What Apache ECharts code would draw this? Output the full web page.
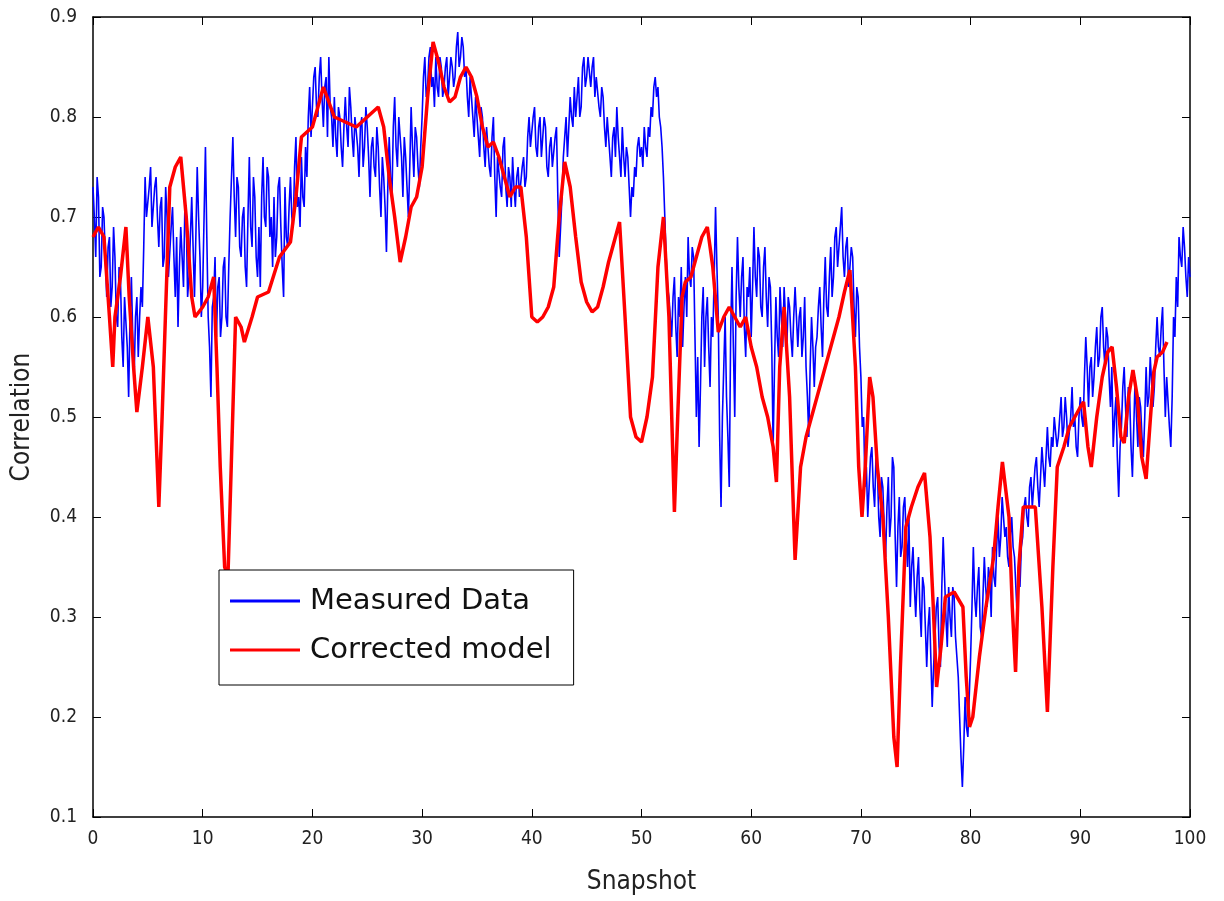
<!DOCTYPE html>
<html><head><meta charset="utf-8">
<script src="https://cdn.jsdelivr.net/npm/echarts@6/dist/echarts.min.js"></script>
<style>html,body{margin:0;padding:0;background:#fff}#c{width:1224px;height:901px}</style>
</head><body><div id="c"></div>
<script>
// Measured data: sampled every 0.125 snapshot (8 values per snapshot unit)
const measuredStep = 0.125;
const measured = [
0.73,0.70,0.66,0.74,0.72,0.64,0.65,0.71, 0.70,0.66,0.62,0.67,0.68,0.61,0.63,0.69,
0.66,0.60,0.59,0.65,0.64,0.58,0.55,0.62, 0.62,0.57,0.52,0.60,0.64,0.58,0.54,0.60,
0.62,0.56,0.60,0.63,0.61,0.67,0.74,0.70, 0.70,0.73,0.75,0.69,0.71,0.73,0.74,0.70,
0.67,0.71,0.72,0.65,0.66,0.73,0.70,0.64, 0.64,0.69,0.71,0.66,0.62,0.68,0.59,0.65,
0.69,0.66,0.63,0.71,0.70,0.62,0.64,0.68, 0.72,0.67,0.62,0.68,0.75,0.70,0.66,0.60,
0.63,0.70,0.77,0.68,0.60,0.57,0.52,0.61, 0.62,0.66,0.58,0.63,0.64,0.58,0.60,0.65,
0.66,0.60,0.59,0.65,0.70,0.74,0.78,0.72, 0.68,0.74,0.73,0.67,0.66,0.70,0.71,0.65,
0.63,0.70,0.76,0.69,0.67,0.74,0.72,0.66, 0.64,0.69,0.63,0.72,0.76,0.70,0.69,0.75,
0.74,0.68,0.70,0.65,0.72,0.66,0.68,0.73, 0.74,0.69,0.65,0.62,0.73,0.68,0.67,0.71,
0.74,0.70,0.69,0.75,0.78,0.71,0.72,0.69, 0.76,0.72,0.71,0.77,0.74,0.80,0.83,0.78,
0.78,0.84,0.85,0.81,0.80,0.84,0.86,0.82, 0.79,0.83,0.84,0.78,0.86,0.81,0.80,0.77,
0.82,0.78,0.76,0.81,0.80,0.77,0.75,0.79, 0.82,0.79,0.77,0.83,0.81,0.78,0.76,0.80,
0.80,0.77,0.74,0.79,0.80,0.75,0.77,0.81, 0.79,0.76,0.72,0.77,0.78,0.75,0.74,0.79,
0.77,0.73,0.70,0.76,0.74,0.71,0.665,0.73, 0.78,0.74,0.72,0.79,0.82,0.77,0.75,0.80,
0.80,0.76,0.72,0.78,0.76,0.73,0.70,0.75, 0.81,0.77,0.74,0.79,0.78,0.75,0.73,0.77,
0.80,0.84,0.86,0.82,0.83,0.86,0.87,0.83, 0.84,0.81,0.86,0.83,0.82,0.86,0.85,0.82,
0.83,0.85,0.86,0.82,0.82,0.86,0.85,0.83, 0.84,0.87,0.885,0.85,0.86,0.88,0.87,0.84,
0.85,0.82,0.80,0.84,0.84,0.80,0.78,0.82, 0.82,0.78,0.76,0.81,0.80,0.77,0.75,0.79,
0.79,0.75,0.74,0.78,0.80,0.74,0.70,0.76, 0.76,0.73,0.72,0.77,0.78,0.73,0.71,0.75,
0.74,0.71,0.76,0.73,0.71,0.74,0.75,0.72, 0.72,0.75,0.76,0.73,0.74,0.78,0.80,0.77,
0.77,0.80,0.81,0.77,0.76,0.79,0.80,0.76, 0.76,0.80,0.79,0.75,0.74,0.77,0.78,0.75,
0.75,0.78,0.79,0.72,0.66,0.69,0.72,0.76, 0.78,0.80,0.76,0.79,0.82,0.80,0.79,0.83,
0.80,0.82,0.84,0.80,0.81,0.85,0.86,0.83, 0.84,0.86,0.86,0.83,0.85,0.86,0.82,0.84,
0.84,0.81,0.80,0.83,0.82,0.79,0.77,0.80, 0.80,0.76,0.74,0.78,0.79,0.76,0.81,0.78,
0.76,0.74,0.79,0.76,0.74,0.77,0.76,0.73, 0.70,0.73,0.72,0.75,0.74,0.77,0.78,0.76,
0.77,0.75,0.79,0.77,0.76,0.79,0.78,0.81, 0.80,0.83,0.84,0.82,0.83,0.80,0.79,0.77,
0.74,0.70,0.66,0.63,0.62,0.60,0.58,0.62, 0.64,0.59,0.56,0.62,0.60,0.65,0.57,0.61,
0.64,0.60,0.68,0.64,0.63,0.67,0.66,0.58, 0.50,0.56,0.47,0.53,0.60,0.63,0.55,0.60,
0.62,0.57,0.53,0.60,0.58,0.64,0.71,0.65, 0.60,0.48,0.41,0.50,0.55,0.60,0.52,0.48,
0.43,0.58,0.65,0.57,0.50,0.62,0.68,0.63, 0.60,0.64,0.66,0.59,0.56,0.63,0.62,0.65,
0.58,0.63,0.69,0.64,0.62,0.67,0.66,0.61, 0.60,0.65,0.67,0.62,0.59,0.64,0.63,0.57,
0.47,0.55,0.62,0.58,0.56,0.63,0.60,0.57, 0.63,0.60,0.57,0.62,0.61,0.58,0.56,0.60,
0.63,0.60,0.57,0.60,0.61,0.56,0.58,0.62, 0.55,0.52,0.48,0.55,0.60,0.57,0.53,0.57,
0.58,0.61,0.63,0.59,0.56,0.62,0.66,0.61, 0.60,0.64,0.67,0.62,0.64,0.68,0.69,0.65,
0.65,0.69,0.71,0.66,0.64,0.67,0.68,0.63, 0.63,0.67,0.66,0.61,0.58,0.63,0.62,0.57,
0.54,0.49,0.50,0.43,0.45,0.40,0.40,0.46, 0.47,0.43,0.41,0.46,0.45,0.40,0.38,0.44,
0.43,0.39,0.36,0.41,0.44,0.38,0.40,0.46, 0.45,0.38,0.33,0.39,0.42,0.36,0.37,0.41,
0.42,0.38,0.35,0.40,0.31,0.35,0.37,0.33, 0.30,0.34,0.36,0.31,0.28,0.34,0.33,0.29,
0.25,0.29,0.31,0.26,0.21,0.25,0.28,0.31, 0.32,0.27,0.25,0.33,0.38,0.34,0.30,0.27,
0.33,0.30,0.28,0.33,0.32,0.28,0.26,0.24, 0.20,0.16,0.13,0.17,0.22,0.19,0.18,0.22,
0.26,0.31,0.37,0.32,0.30,0.33,0.35,0.29, 0.28,0.32,0.36,0.33,0.31,0.35,0.34,0.30,
0.37,0.34,0.33,0.37,0.40,0.36,0.38,0.42, 0.42,0.38,0.39,0.36,0.35,0.38,0.40,0.37,
0.36,0.33,0.30,0.35,0.33,0.37,0.38,0.41, 0.42,0.40,0.39,0.43,0.44,0.41,0.41,0.45,
0.46,0.43,0.41,0.44,0.47,0.45,0.43,0.46, 0.49,0.46,0.45,0.48,0.47,0.50,0.50,0.47,
0.48,0.50,0.52,0.48,0.49,0.52,0.50,0.47, 0.47,0.50,0.53,0.49,0.50,0.47,0.46,0.50,
0.52,0.50,0.49,0.54,0.58,0.55,0.51,0.55, 0.56,0.52,0.54,0.57,0.59,0.55,0.56,0.60,
0.61,0.57,0.55,0.59,0.58,0.54,0.51,0.55, 0.47,0.50,0.52,0.46,0.42,0.47,0.49,0.53,
0.55,0.51,0.48,0.53,0.52,0.47,0.44,0.49, 0.54,0.50,0.47,0.52,0.51,0.48,0.46,0.50,
0.55,0.51,0.52,0.56,0.56,0.51,0.53,0.57, 0.60,0.57,0.56,0.59,0.61,0.55,0.50,0.54,
0.54,0.49,0.47,0.52,0.60,0.58,0.64,0.61, 0.68,0.66,0.65,0.69,0.67,0.64,0.62,0.66,
0.64
];

// Corrected model: snapshot positions and values
const correctedX = [
0,0.5,1,1.5,1.8,2,2.5,3,3.3,3.7,4,4.5,5,5.5,6,6.3,6.6,7,7.5,8,8.5,9,9.3,10,10.5,11,11.3,11.6,12,12.3,12.6,13,13.5,13.8,14.5,15,16,17,18,18.5,19,20,20.5,21,22,23,24,25,26,26.5,27,27.5,28,28.5,29,29.5,30,30.5,31,31.5,32,32.5,33,33.5,34,34.5,35,35.5,36,36.5,37,37.5,38,38.5,39,39.5,40,40.5,41,41.5,42,42.5,43,43.5,44,44.5,45,45.5,46,46.5,47,47.5,48,48.5,49,49.5,50,50.5,51,51.5,52,52.5,53,53.3,53.7,54,54.5,55,55.5,56,56.5,57,57.5,58,58.5,59,59.5,60,60.5,61,61.5,62,62.3,62.6,63,63.5,64,64.5,65,65.5,66,66.5,67,67.5,68,68.5,69,69.5,69.8,70.1,70.4,70.8,71.1,71.5,72,72.5,73,73.3,73.6,74.1,74.6,75.2,75.8,76.3,76.6,76.9,77.3,77.7,78.5,79.3,79.6,79.9,80.2,80.8,81.4,82.1,82.5,82.9,83.5,83.8,84.1,84.4,84.8,85.9,86.5,87,87.5,87.9,88.5,89,89.5,90,90.3,90.7,91,91.5,92,92.5,92.9,93.3,93.7,94,94.4,94.8,95.2,95.6,96,96.4,96.7,97,97.5,97.9
];
const correctedY = [
0.68,0.69,0.68,0.60,0.55,0.60,0.64,0.69,0.62,0.55,0.505,0.55,0.60,0.55,0.41,0.50,0.60,0.73,0.75,0.76,0.70,0.62,0.60,0.61,0.62,0.64,0.55,0.45,0.35,0.34,0.45,0.60,0.59,0.575,0.60,0.62,0.625,0.66,0.675,0.72,0.78,0.79,0.81,0.83,0.80,0.795,0.79,0.80,0.81,0.79,0.74,0.70,0.655,0.68,0.71,0.72,0.75,0.82,0.875,0.855,0.83,0.815,0.82,0.84,0.85,0.84,0.82,0.79,0.77,0.775,0.76,0.74,0.72,0.73,0.73,0.68,0.60,0.595,0.60,0.61,0.63,0.70,0.755,0.73,0.68,0.635,0.615,0.605,0.61,0.63,0.655,0.675,0.695,0.60,0.50,0.48,0.475,0.50,0.54,0.65,0.70,0.60,0.405,0.50,0.62,0.635,0.64,0.66,0.68,0.69,0.65,0.585,0.60,0.61,0.60,0.59,0.60,0.57,0.55,0.52,0.50,0.47,0.435,0.55,0.61,0.52,0.357,0.45,0.48,0.50,0.52,0.54,0.56,0.58,0.60,0.625,0.647,0.55,0.45,0.40,0.45,0.54,0.52,0.45,0.40,0.30,0.18,0.15,0.25,0.39,0.41,0.43,0.444,0.38,0.31,0.23,0.27,0.32,0.325,0.31,0.24,0.19,0.20,0.26,0.31,0.36,0.41,0.455,0.40,0.31,0.245,0.35,0.41,0.41,0.31,0.205,0.35,0.45,0.47,0.49,0.50,0.51,0.515,0.47,0.45,0.50,0.54,0.565,0.57,0.53,0.48,0.474,0.52,0.547,0.52,0.46,0.438,0.50,0.545,0.56,0.565,0.575
];

const seriesNames = ['Measured Data', 'Corrected model'];
const xTickLabels = ['0','10','20','30','40','50','60','70','80','90','100'];

const measuredPts = measured.map((v, i) => [i * measuredStep, v]);
const correctedPts = correctedX.map((x, i) => [x, correctedY[i]]);

const tickFont = "'Liberation Sans Narrow','DejaVu Sans Condensed','Arial Narrow',sans-serif";
const axisCommon = {
  axisLine: { show: true, onZero: false, lineStyle: { color: '#000', width: 1.5 } },
  axisTick: { show: true, inside: true, length: 8, lineStyle: { color: '#000', width: 1 } },
  splitLine: { show: false }
};

const chart = echarts.init(document.getElementById('c'), null, { renderer: 'canvas' });
chart.setOption({
  backgroundColor: '#fff',
  animation: false,
  grid: { left: 93, right: 34, top: 17, bottom: 84 },
  legend: {
    left: 219, top: 570,
    orient: 'vertical',
    data: seriesNames,
    icon: 'rect',
    itemWidth: 70, itemHeight: 3, itemGap: 19,
    padding: [16, 22, 20, 11],
    borderColor: '#000', borderWidth: 1, backgroundColor: '#fff',
    textStyle: { fontSize: 29, lineHeight: 30, color: '#111', fontFamily: "'DejaVu Sans',sans-serif", padding: [0, 0, 0, 5] }
  },
  xAxis: [
    Object.assign({
      type: 'value', min: 0, max: 100, interval: 10, position: 'bottom',
      name: 'Snapshot', nameLocation: 'middle', nameGap: 52,
      nameTextStyle: { fontSize: 26, color: '#222', fontFamily: tickFont },
      axisLabel: { fontSize: 19, color: '#222', margin: 13, fontFamily: tickFont,
        formatter: (v) => xTickLabels[Math.round(v / 10)] }
    }, axisCommon),
    Object.assign({
      type: 'value', min: 0, max: 100, interval: 10, position: 'top',
      axisLabel: { show: false }
    }, axisCommon)
  ],
  yAxis: [
    Object.assign({
      type: 'value', min: 0.1, max: 0.9, interval: 0.1, position: 'left',
      name: 'Correlation', nameLocation: 'middle', nameGap: 58, nameRotate: 90,
      nameTextStyle: { fontSize: 26, color: '#222', fontFamily: tickFont },
      axisLabel: { fontSize: 19, color: '#222', margin: 16, fontFamily: tickFont,
        formatter: (v) => v.toFixed(1) }
    }, axisCommon),
    Object.assign({
      type: 'value', min: 0.1, max: 0.9, interval: 0.1, position: 'right',
      axisLabel: { show: false }
    }, axisCommon)
  ],
  series: [
    {
      name: seriesNames[0], type: 'line', data: measuredPts,
      xAxisIndex: 0, yAxisIndex: 0,
      showSymbol: false, symbol: 'none',
      lineStyle: { color: '#0000ff', width: 1.6 }, itemStyle: { color: '#0000ff' },
      z: 2
    },
    {
      name: seriesNames[1], type: 'line', data: correctedPts,
      xAxisIndex: 0, yAxisIndex: 0,
      showSymbol: false, symbol: 'none',
      lineStyle: { color: '#ff0000', width: 3.5 }, itemStyle: { color: '#ff0000' },
      z: 3
    }
  ]
});
</script>
</body></html>
